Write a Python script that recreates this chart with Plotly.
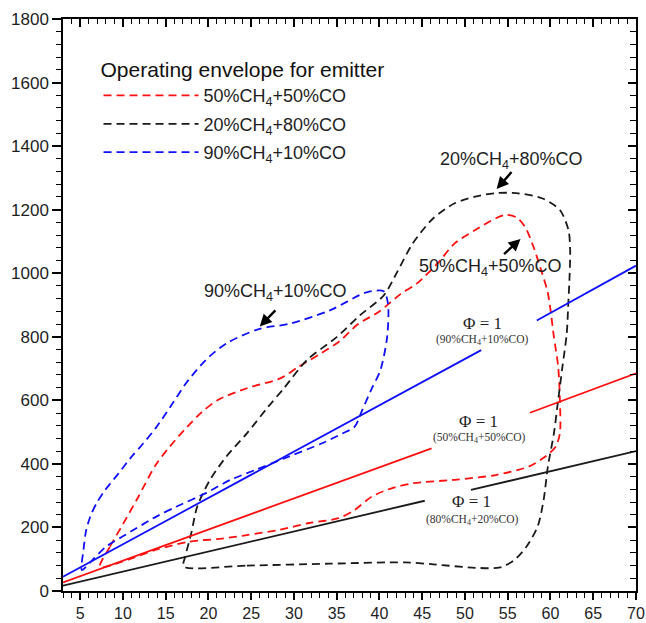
import plotly.graph_objects as go

# ---------------- data ----------------
# operating envelope 50%CH4+50%CO (closed loop)
red_env_x = [7.3, 8.5, 10.0, 11.8, 13.8, 15.5, 17.3, 19.2, 21.1, 24.5, 28.4, 30.5, 33.0, 35.3, 37.5, 39.9, 42.5, 44.4,
             46.8, 48.8, 51.2, 53.6, 54.8, 56.0, 57.0, 58.0, 58.9, 59.7, 60.4, 60.9, 61.1, 61.1, 60.6, 59.4,
             57.5, 53.6, 48.8, 43.9, 41.5, 39.1, 37.1, 35.2, 31.8, 28.4, 24.5, 21.6, 17.7, 13.8, 9.9, 7.3]
red_env_y = [75, 140, 210, 296, 395, 455, 510, 562, 601, 638, 669, 705, 745, 785, 840, 878, 935, 968,
             1031, 1094, 1136, 1173, 1184, 1176, 1147, 1084, 1010, 937, 800, 706, 601, 496, 454, 423,
             392, 365, 350, 339, 324, 297, 255, 229, 214, 193, 176, 165, 155, 129, 92, 75]

# operating envelope 20%CH4+80%CO (closed loop)
blk_env_x = [17.1, 24.5, 34.2, 43.0, 46.3, 51.2, 54.1, 55.8, 57.2, 58.5, 59.2, 59.7, 60.4, 60.9, 61.4, 61.9,
             62.1, 62.2, 62.3, 62.1, 61.1, 59.0, 56.0, 53.6, 51.2, 48.8, 46.3, 43.9, 42.1, 40.5, 37.7,
             35.0, 31.5, 28.8, 27.0, 24.5, 22.1, 20.2, 18.7, 18.0, 17.3, 17.1]
blk_env_y = [77, 80, 86, 90, 84, 73, 74, 98, 140, 203, 287, 392, 496, 601, 706, 810,
             915, 968, 1073, 1136, 1199, 1236, 1252, 1252, 1241, 1220, 1173, 1094, 1005, 930, 867,
             799, 726, 637, 580, 496, 423, 350, 266, 182, 109, 77]

# operating envelope 90%CH4+10%CO (closed loop)
blu_env_x = [5.2, 5.4, 5.7, 6.2, 6.9, 7.9, 9.5, 11.0, 12.4, 13.9, 15.8, 17.5, 19.7, 22.1, 26.0, 29.5, 34.2,
             38.5, 40.5, 41.0, 40.9, 40.1, 39.1, 38.0, 37.1, 35.7, 33.3, 29.4, 25.5, 22.6, 19.7, 16.3,
             13.9, 10.0, 8.05, 6.1, 5.2]
blu_env_y = [66, 130, 190, 235, 275, 317, 370, 422, 465, 515, 590, 658, 727, 779, 825, 841, 883,
             940, 943, 904, 799, 694, 637, 570, 517, 496, 465, 423, 381, 350, 308, 266,
             234, 172, 140, 88, 66]

# stoichiometric (phi = 1) lines, each drawn in two pieces around its label
phi90_x = [3, 51.9, None, 58.4, 70]
phi90_y = [45, 758, None, 851, 1024]
phi50_x = [3, 46.1, None, 57.6, 70]
phi50_y = [27, 449, None, 561, 685]
phi80_x = [3, 45.3, None, 50.7, 70]
phi80_y = [17, 284, None, 318, 440]

legend_names = ["50%CH<sub>4</sub>+50%CO", "20%CH<sub>4</sub>+80%CO", "90%CH<sub>4</sub>+10%CO"]
x_range = [3, 70]
y_range = [0, 1800]

RED = "#ff1010"
BLK = "#1a1a1a"
BLU = "#1010ff"
DASH = "8px,5px"

fig = go.Figure()

for i, (x, y, c, n) in enumerate([(red_env_x, red_env_y, RED, legend_names[0]),
                                  (blk_env_x, blk_env_y, BLK, legend_names[1]),
                                  (blu_env_x, blu_env_y, BLU, legend_names[2])]):
    fig.add_trace(go.Scatter(x=x, y=y, mode="lines", name=n, legendgroup=f"g{i}",
                             line=dict(color=c, width=1.8, dash=DASH, shape="spline", smoothing=0.8)))

for x, y, c in [(phi90_x, phi90_y, BLU), (phi50_x, phi50_y, RED), (phi80_x, phi80_y, BLK)]:
    fig.add_trace(go.Scatter(x=x, y=y, mode="lines", showlegend=False,
                             line=dict(color=c, width=1.8)))

# empty trace to create top/right mirror axes
fig.add_trace(go.Scatter(x=[], y=[], xaxis="x2", yaxis="y2", showlegend=False, hoverinfo="skip"))

TXT = "#1e1e1e"
ann = []
# envelope labels
for tx, ty, t in [(55.4, 1356, "20%CH<sub>4</sub>+80%CO"),
                  (53.0, 1019, "50%CH<sub>4</sub>+50%CO"),
                  (27.9, 940, "90%CH<sub>4</sub>+10%CO")]:
    ann.append(dict(x=tx, y=ty, text=t, showarrow=False, font=dict(family="Liberation Sans, Arial", size=18, color=TXT)))
# arrows (tail -> head)
for ax_, ay_, hx, hy in [(55.6, 1323, 53.7, 1265), (54.4, 1056, 56.5, 1108), (28.0, 888, 26.0, 832)]:
    ann.append(dict(x=hx, y=hy, ax=ax_, ay=ay_, axref="x", ayref="y", xref="x", yref="y", text="",
                    showarrow=True, arrowhead=2, arrowsize=1, arrowwidth=2.4, arrowcolor="#000"))
# phi labels
for tx, ty, sy, t in [(52.0, 843, 789, "(90%CH<sub>4</sub>+10%CO)"),
                      (51.6, 532, 483, "(50%CH<sub>4</sub>+50%CO)"),
                      (50.8, 281, 225, "(80%CH<sub>4</sub>+20%CO)")]:
    ann.append(dict(x=tx, y=ty, text="Φ = 1", showarrow=False,
                    font=dict(family="Liberation Serif, Times New Roman", size=17, color=TXT)))
    ann.append(dict(x=tx, y=sy, text=t, showarrow=False,
                    font=dict(family="Liberation Serif, Times New Roman", size=11.5, color="#333")))

axis_common = dict(showline=True, linecolor="black", linewidth=1.5, showgrid=False, zeroline=False,
                   automargin=False)

fig.update_layout(
    width=646, height=623,
    margin=dict(l=63, r=10, t=19, b=32),
    paper_bgcolor="white", plot_bgcolor="white",
    font=dict(family="Liberation Sans, Arial", size=17, color=TXT),
    annotations=ann,
    showlegend=True,
    legend=dict(x=0.062, y=0.946, xanchor="left", yanchor="top", bgcolor="rgba(0,0,0,0)",
                title=dict(text="Operating envelope for emitter", font=dict(size=21, color="#111")),
                font=dict(size=18, color=TXT), itemwidth=95, traceorder="grouped", tracegroupgap=2),
    xaxis=dict(range=x_range, tickmode="linear", tick0=0, dtick=5, ticks="outside", ticklen=7,
               tickwidth=1.5, tickcolor="black",
               minor=dict(dtick=1, tick0=0, ticks="outside", ticklen=5, tickwidth=1.2, tickcolor="black"),
               tickfont=dict(size=16), **axis_common),
    yaxis=dict(range=y_range, tickmode="linear", tick0=0, dtick=200, ticks="outside", ticklen=9,
               tickwidth=1.5, tickcolor="black",
               minor=dict(dtick=40, tick0=0, ticks="outside", ticklen=5, tickwidth=1.2, tickcolor="black"),
               tickfont=dict(size=17), **axis_common),
    xaxis2=dict(range=x_range, overlaying="x", side="top", anchor="y2", showticklabels=False,
                tickmode="linear", tick0=0, dtick=5, ticks="inside", ticklen=8, tickwidth=1.5, tickcolor="black",
                minor=dict(dtick=1, tick0=0, ticks="inside", ticklen=5, tickwidth=1.2, tickcolor="black"),
                **axis_common),
    yaxis2=dict(range=y_range, overlaying="y", side="right", anchor="x2", showticklabels=False,
                tickmode="linear", tick0=0, dtick=200, ticks="inside", ticklen=8, tickwidth=1.5, tickcolor="black",
                minor=dict(dtick=40, tick0=0, ticks="inside", ticklen=6, tickwidth=1.2, tickcolor="black"),
                **axis_common),
)

fig.write_html("out.html")
